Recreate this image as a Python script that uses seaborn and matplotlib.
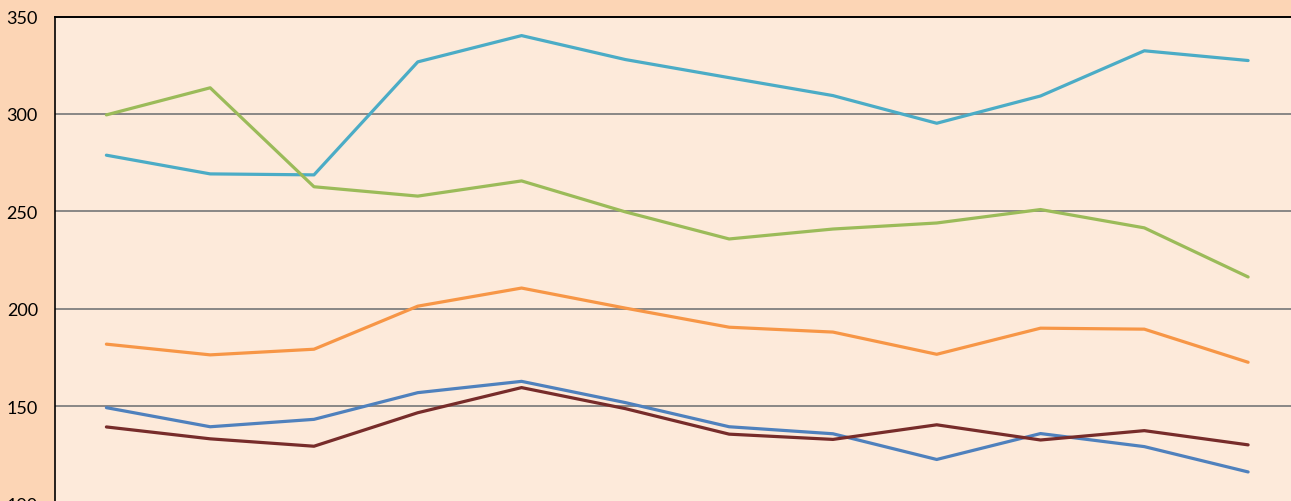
import numpy as np
import pandas as pd
import matplotlib
matplotlib.use("Agg")
import matplotlib.pyplot as plt
import seaborn as sns

categories = list(range(1, 13))
series_cyan = [278.8, 269.2, 268.7, 326.7, 340.2, 327.9, 318.6, 309.4, 295.2, 309.2, 332.4, 327.4]
series_green = [299.5, 313.4, 262.6, 257.8, 265.6, 249.7, 235.8, 240.9, 244.0, 250.9, 241.5, 216.3]
series_orange = [181.8, 176.3, 179.2, 201.3, 210.6, 200.3, 190.5, 188.0, 176.6, 190.0, 189.5, 172.5]
series_blue = [149.2, 139.4, 143.2, 156.9, 162.7, 151.8, 139.4, 135.8, 122.6, 135.9, 129.2, 116.2]
series_red = [139.3, 133.2, 129.4, 146.6, 159.5, 148.7, 135.6, 132.9, 140.4, 132.6, 137.4, 130.1]
series_names = ["Series A", "Series B", "Series C", "Series D", "Series E"]
y_ticks = [100, 150, 200, 250, 300, 350]

colors = {"Series A": "#4BACC6", "Series B": "#9BBB59", "Series C": "#F79646",
          "Series D": "#4F81BD", "Series E": "#772C2A"}

frames = []
for name, vals in zip(series_names, [series_cyan, series_green, series_orange, series_blue, series_red]):
    frames.append(pd.DataFrame({"cat": np.arange(len(categories)), "value": vals, "series": name}))
df = pd.concat(frames, ignore_index=True)

sns.set_theme(style="white")
plt.rcParams['font.family'] = ['Lato', 'DejaVu Sans']

W, H = 1291, 502
fig = plt.figure(figsize=(W / 100, H / 100), dpi=100, facecolor="#FCD5B5")
left_px, right_px, top_px, bottom_px = 54.5, 1300, 17.5, 504.5
ax = fig.add_axes([left_px / W, 1 - bottom_px / H, (right_px - left_px) / W, (bottom_px - top_px) / H])
ax.set_facecolor("#FDEADA")

for yv in y_ticks[1:-1]:
    ax.axhline(yv, color="#7F7F7F", lw=1.3, zorder=1)

sns.lineplot(data=df, x="cat", y="value", hue="series", palette=colors, ax=ax,
             linewidth=2.3, legend=False, zorder=3, estimator=None, sort=False)

ax.set_xlim(-0.5, len(categories) - 0.5)
ax.set_ylim(100, 350)
ax.set_yticks(y_ticks)
ax.set_yticklabels([str(v) for v in y_ticks])
ax.set_xticks([])
ax.set_xlabel("")
ax.set_ylabel("")
ax.tick_params(axis="y", length=0, pad=12, labelsize=13, labelcolor="#000000")
ax.grid(False)
for s in ["right", "bottom"]:
    ax.spines[s].set_visible(False)
ax.spines["top"].set_color("#000000")
ax.spines["top"].set_linewidth(1.4)
ax.spines["left"].set_color("#000000")
ax.spines["left"].set_linewidth(1.2)

fig.savefig("out.png", dpi=100, facecolor=fig.get_facecolor())
